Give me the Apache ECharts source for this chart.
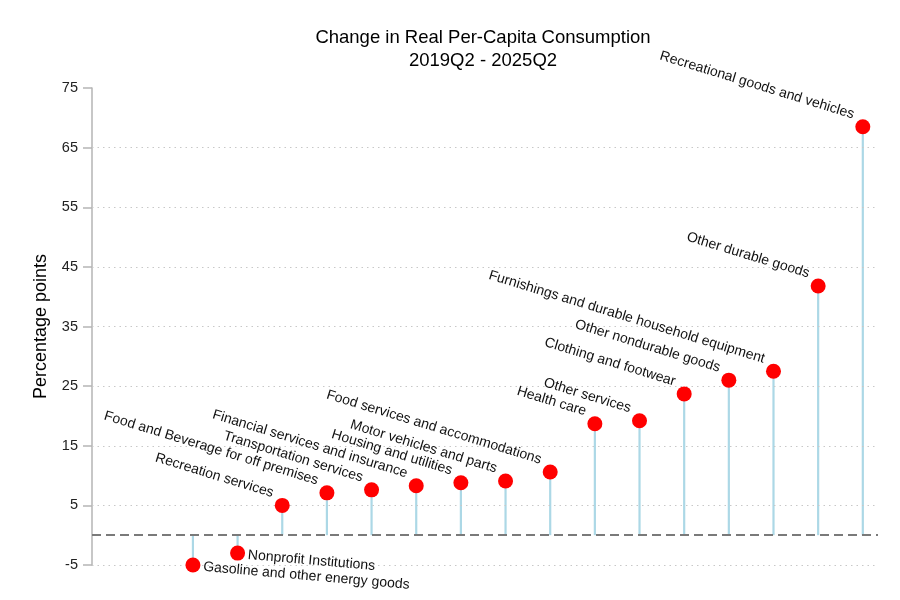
<!DOCTYPE html>
<html><head><meta charset="utf-8">
<script src="https://cdn.jsdelivr.net/npm/echarts@6/dist/echarts.min.js"></script>
<style>html,body{margin:0;padding:0;background:#fff}#c{width:900px;height:600px}</style>
</head><body><div id="c"></div>
<script>
const categories = ["Gasoline and other energy goods","Nonprofit Institutions","Recreation services","Food and Beverage for off premises","Transportation services","Financial services and insurance","Housing and utilities","Motor vehicles and parts","Food services and accommodations","Health care","Other services","Clothing and footwear","Other nondurable goods","Furnishings and durable household equipment","Other durable goods","Recreational goods and vehicles"];
const values = [-5.0,-3.0,5.0,7.1,7.6,8.3,8.8,9.1,10.6,18.7,19.2,23.7,26.0,27.5,41.8,68.5];
const gridValues = [-5,5,15,25,35,45,55,65];
const titleLines = ["Change in Real Per-Capita Consumption","2019Q2 - 2025Q2"];

const font = "'Liberation Sans', Arial, sans-serif";
const pts = values.map((v,i)=>{
  const pos = v >= 0;
  return {
    value:[i,v],
    label: pos ? {show:true, formatter:categories[i], position:'left', distance:0, align:'right', verticalAlign:'bottom', rotate:-17, offset:[-5,-4]}
               : {show:true, formatter:categories[i], position:'right', distance:3, align:'left', verticalAlign:'middle', rotate:-5, offset:[0,2]}
  };
});
const chart = echarts.init(document.getElementById('c'));
chart.setOption({
  animation:false,
  textStyle:{fontFamily:font},
  title:{text:titleLines.join('\n'), left:478, top:21, textAlign:'center',
    textStyle:{fontSize:18.5, fontWeight:'normal', color:'#000', lineHeight:23, fontFamily:font}},
  grid:{left:92, right:22, top:88, bottom:35},
  xAxis:{type:'value', min:-2.26, max:15.34, show:false},
  yAxis:{type:'value', min:-5, max:75, interval:10,
    name:'Percentage points', nameLocation:'middle', nameGap:42,
    nameTextStyle:{fontSize:18, color:'#000', fontFamily:font},
    axisLine:{show:true, onZero:false, lineStyle:{color:'#b5b5b5', width:1.5}},
    axisTick:{show:true, length:9, lineStyle:{color:'#b5b5b5', width:1.5}},
    axisLabel:{fontSize:14.5, color:'#222', margin:14, fontFamily:font},
    splitLine:{show:false}
  },
  series:[
    {type:'line', data:[], markLine:{silent:true, symbol:'none', label:{show:false}, animation:false,
      lineStyle:{color:'#c8c8c8', type:[1.5,4], width:1}, data:gridValues.map(v=>({yAxis:v}))}, z:1},
    {type:'custom', renderItem:(params, api)=>{
        const p0 = api.coord([api.value(0),0]);
        const p1 = api.coord([api.value(0),api.value(1)]);
        return {type:'line', shape:{x1:p0[0],y1:p0[1],x2:p1[0],y2:p1[1]}, style:{stroke:'#acd8e6', lineWidth:2.2}};
      }, data:values.map((v,i)=>[i,v]), z:2},
    {type:'line', data:[], markLine:{silent:true, symbol:'none', label:{show:false},
      lineStyle:{color:'#7a7a7a', type:[9,5], width:2}, data:[{yAxis:0}]}, z:3},
    {type:'scatter', symbol:'circle', symbolSize:15, itemStyle:{color:'#ff0000', opacity:1}, z:5,
      label:{fontSize:14, color:'#111', fontFamily:font},
      data:pts}
  ]
});
</script></body></html>
